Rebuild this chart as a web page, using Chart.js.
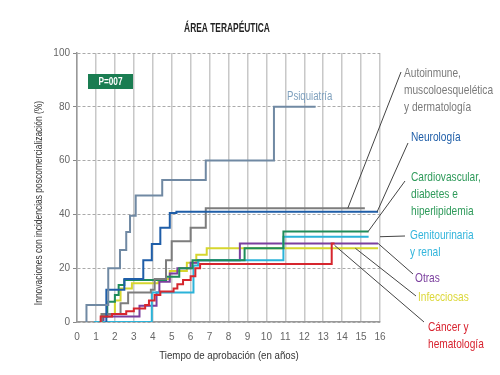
<!DOCTYPE html>
<html><head><meta charset="utf-8">
<script src="https://cdn.jsdelivr.net/npm/chart.js@4/dist/chart.umd.min.js"></script>
<style>html,body{margin:0;padding:0;background:#fff}#wrap{width:500px;height:375px}</style>
</head><body><div id="wrap"><canvas id="c" width="500" height="375"></canvas></div>
<script>
// ---- data (years since approval, cumulative % with post-marketing incidents) ----
const xTicks = [0,1,2,3,4,5,6,7,8,9,10,11,12,13,14,15,16];
const yTicks = [0,20,40,60,80,100];

const psiqT = [0.5,0.5,1.65,2.27,2.6,2.8,3.1,4.5,6.8,10.4,12.6];
const psiqV = [0,6.3,20,26.8,33.5,39.5,47,52.8,60,80,80];

const autoT = [1.2,1.3,2.3,2.7,3.9,4.1,4.7,5.0,6.0,6.8,15.2];
const autoV = [0,3,7,11,12,16,23,30,35,42.3,42.3];

const neuroT = [1.5,1.55,2.5,3.5,3.95,4.4,4.9,5.25,15.9];
const neuroV = [0,12,16,23,29,35,40.5,41,41];

const cardioT = [1.2,1.3,1.6,2.0,2.2,2.5,4.7,5.4,6.1,8.85,10.9,15.4];
const cardioV = [0,2,7.5,10,13.8,15.6,16.8,20,23,27.4,33.6,33.6];

const genitoT = [0.9,3.95,6.15,6.4,10.9,15.4];
const genitoV = [0,11,21,23,31.7,31.7];

const otrasT = [1.3,1.4,3.3,4.2,4.35,4.9,5.3,6.0,6.4,8.6,15.9];
const otrasV = [0,2,6,11,15,18,20,22,23,29.2,29.2];

const infecT = [1.2,1.3,2.0,2.3,2.9,4.3,4.9,5.8,6.3,6.85,15.9];
const infecV = [0,3,8,12.5,14.4,16,19,22,25,27.4,27.4];

const cancerT = [1.2,1.25,1.85,2.6,3.0,3.6,3.8,4.1,4.4,5.1,5.3,5.6,6.0,6.25,6.5,13.45,13.6];
const cancerV = [0,2,3,4,5,6.3,8,10,11.3,12.5,14,15.6,17,20,21.6,29.2,29.2];

const seriesNames = ["Psiquiatría","Autoinmune, muscoloesquelética y dermatología","Neurología",
  "Cardiovascular, diabetes e hiperlipidemia","Genitourinaria y renal","Otras","Infecciosas","Cáncer y hematología"];

// ---- styling ----
const FONT = "'Liberation Sans','DejaVu Sans',Roboto,sans-serif";
const colors = {
  psiq:'#7089a3', auto:'#7d7d7d', neuro:'#1f5ea8', cardio:'#1e8c5a',
  genito:'#2bb3d9', otras:'#7b3f9e', infec:'#d6d62e', cancer:'#d6262e'
};
function pts(t,v){ return t.map((x,i)=>({x:x,y:v[i]})); }
function ds(label,t,v,col){
  return {label:label,data:pts(t,v),borderColor:col,backgroundColor:col,borderWidth:2,
    pointRadius:0,stepped:true,fill:false,tension:0};
}

// labels on the right: [lines, color, x, yFirstLine, leader anchor (data t,v), leader end px]
const labelDefs = [
  {lines:["Autoinmune,","muscoloesquelética","y dermatología"],color:'#7a7a7a',x:404,y:73,at:[14.3,42.3],end:[401,72]},
  {lines:["Neurología"],color:'#1f5ea8',x:411,y:137,at:[15.85,41],end:[408,143]},
  {lines:["Cardiovascular,","diabetes e","hiperlipidemia"],color:'#2e9a5a',x:411,y:177,at:[15.37,33.6],end:[405,181]},
  {lines:["Genitourinaria","y renal"],color:'#33b5dc',x:410,y:235,at:[16,31.7],end:[405,236]},
  {lines:["Otras"],color:'#7b3f9e',x:415,y:278,at:[15.9,29.2],end:[413,274]},
  {lines:["Infecciosas"],color:'#dcd83a',x:418,y:297,at:[14.7,27.4],end:[416,296]},
  {lines:["Cáncer y","hematología"],color:'#d8232f',x:428,y:327,at:[13.6,28.5],end:[424,322]}
];

function condText(ctx, text, x, y, sx){
  ctx.save(); ctx.translate(x, y); ctx.scale(sx, 1); ctx.fillText(text, 0, 0); ctx.restore();
}

const extras = {
  id:'extras',
  afterDraw(chart){
    const ctx = chart.ctx, xs = chart.scales.x, ys = chart.scales.y;
    ctx.save();
    ctx.textBaseline='middle';
    // title
    ctx.fillStyle = '#222'; ctx.textAlign='center';
    ctx.font = "bold 12px " + FONT;
    condText(ctx, "ÁREA TERAPÉUTICA", 227, 29, 0.7);
    // x title
    ctx.font = "11px " + FONT; ctx.fillStyle='#333';
    condText(ctx, "Tiempo de aprobación (en años)", 229, 356, 0.88);
    // y title
    ctx.save(); ctx.translate(39, 203); ctx.rotate(-Math.PI/2);
    condText(ctx, "Innovaciones con incidencias poscomercialización (%)", 0, 0, 0.77);
    ctx.restore();
    // P box
    ctx.fillStyle = '#1a7d52'; ctx.fillRect(88, 74, 45, 15);
    ctx.fillStyle = '#fff'; ctx.font = "bold 11px " + FONT;
    condText(ctx, "P=007", 110.5, 81.5, 0.75);
    // Psiquiatría label
    ctx.fillStyle = '#7fa0bd'; ctx.font = "12px " + FONT; ctx.textAlign='left';
    condText(ctx, "Psiquiatría", 287, 97, 0.8);
    // leader lines + labels
    labelDefs.forEach(d=>{
      ctx.strokeStyle = '#444'; ctx.lineWidth = 1;
      ctx.beginPath();
      ctx.moveTo(xs.getPixelForValue(d.at[0]), ys.getPixelForValue(d.at[1]));
      ctx.lineTo(d.end[0], d.end[1]); ctx.stroke();
      ctx.fillStyle = d.color; ctx.font = "13px " + FONT; ctx.textAlign='left';
      d.lines.forEach((ln,i)=>condText(ctx, ln, d.x, d.y + i*17, 0.78));
    });
    ctx.restore();
  }
};

new Chart(document.getElementById('c'), {
  type:'line',
  data:{datasets:[
    ds(seriesNames[7],cancerT,cancerV,colors.cancer),
    ds(seriesNames[0],psiqT,psiqV,colors.psiq),
    ds(seriesNames[2],neuroT,neuroV,colors.neuro),
    ds(seriesNames[1],autoT,autoV,colors.auto),
    ds(seriesNames[3],cardioT,cardioV,colors.cardio),
    ds(seriesNames[4],genitoT,genitoV,colors.genito),
    ds(seriesNames[5],otrasT,otrasV,colors.otras),
    ds(seriesNames[6],infecT,infecV,colors.infec)
  ]},
  options:{
    responsive:false, animation:false, devicePixelRatio:1,
    layout:{padding:{top:53,right:120,left:0,bottom:0}},
    plugins:{legend:{display:false},tooltip:{enabled:false},title:{display:false}},
    scales:{
      x:{type:'linear',min:0,max:16,
        afterBuildTicks(s){ s.ticks = xTicks.map(v=>({value:v})); },
        afterFit(s){ s.height = 53; },
        grid:{color:'#c8c8c8',lineWidth:1.5,drawTicks:false},
        border:{color:'#999',width:1.5},
        ticks:{color:'#666',font:{family:FONT,size:10},padding:9,maxRotation:0}},
      y:{min:0,max:100,
        afterBuildTicks(s){ s.ticks = yTicks.map(v=>({value:v})); },
        afterFit(s){ s.width = 77; },
        grid:{color:'#aaaaaa',lineWidth:1,tickLength:4,tickColor:'#888'},
        border:{color:'#999',width:1.5,dash:[3,2]},
        ticks:{color:'#666',font:{family:FONT,size:10},padding:3}}
    }
  },
  plugins:[extras]
});
</script></body></html>
